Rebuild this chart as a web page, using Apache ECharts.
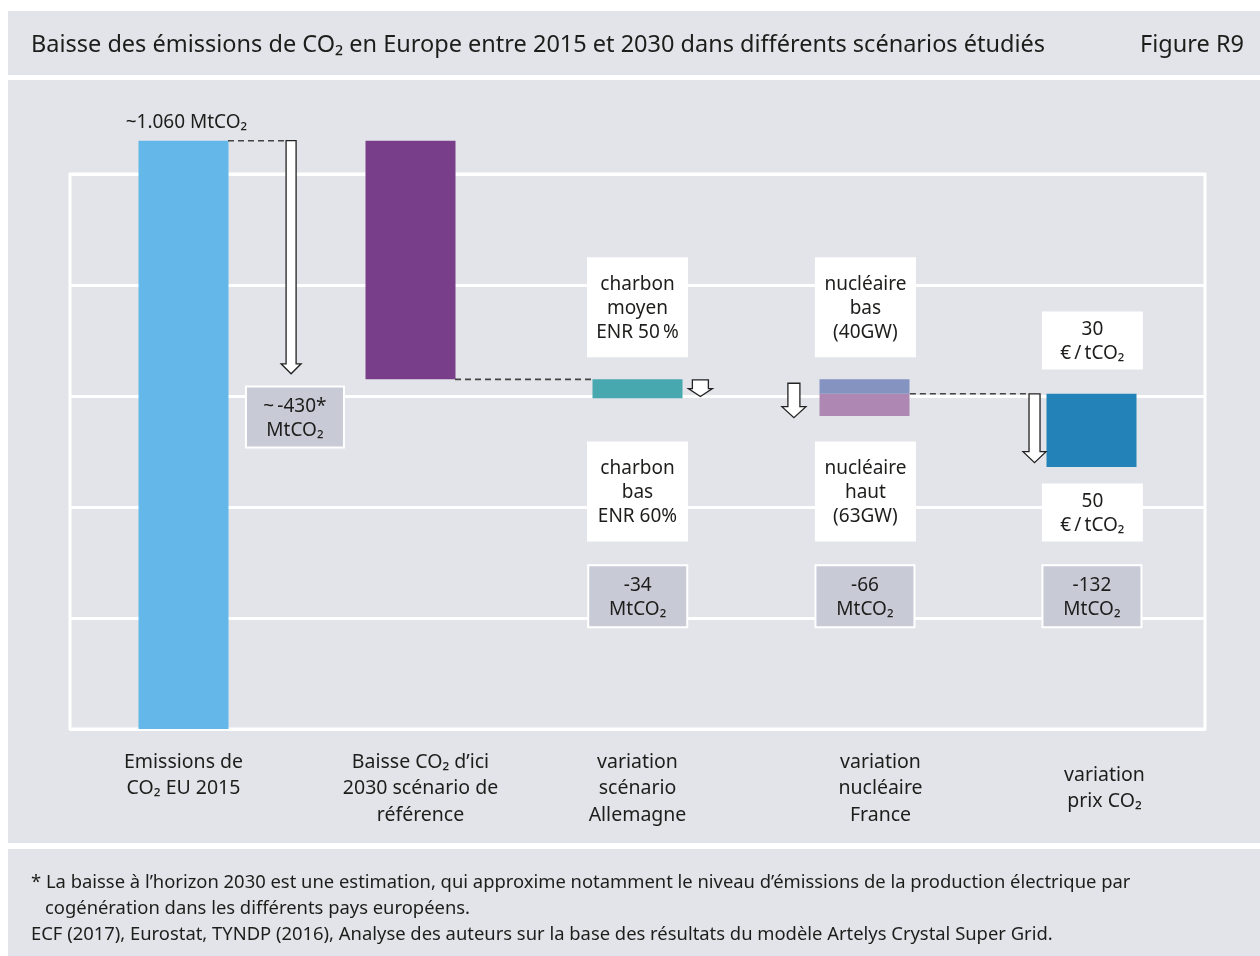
<!DOCTYPE html>
<html>
<head>
<meta charset="utf-8">
<title>Figure R9</title>
<script src="https://cdn.jsdelivr.net/npm/echarts@6/dist/echarts.min.js"></script>
<style>
html,body{margin:0;padding:0;background:#fff;}
#chart{width:1260px;height:956px;}
</style>
</head>
<body>
<div id="chart"></div>
<script>
// categories (x axis)
var categories = [
	'Emissions de\nCO₂ EU 2015',
	'Baisse CO₂ d’ici\n2030 scénario de\nréférence',
	'variation\nscénario\nAllemagne',
	'variation\nnucléaire\nFrance',
	'variation\nprix CO₂'
];
// MtCO2 - invisible base of the waterfall
var barBase = [0, 630, 596, 564, 472];
// MtCO2 - visible part of each bar
var barDrop = [1060, 430, 34, 40, 132];
// MtCO2 - upper part of the nuclear bar (nucléaire bas)
var barUpper = ['-', '-', '-', 26, '-'];
// arrows : start and end level (MtCO2)
var arrowFrom = [1060, 629, 623, 604];
var arrowTo = [640, 599, 561, 480];
// y ticks
var yTicks = [0, 200, 400, 600, 800, 1000];

var FONT = '"Noto Sans", sans-serif';
var TXT = '#1d1d1b';
var PANEL = '#e3e4e9';

// arrow placement (category, offset in bands, shaft/head sizes px)
var arrowLayout = [
	{cat:0, dx:0.474, sw:5,  hw:10, hl:10},
	{cat:2, dx:0.277, sw:8,  hw:12, hl:8},
	{cat:3, dx:-0.311, sw:6, hw:12, hl:11},
	{cat:4, dx:-0.251, sw:5.5, hw:11.5, hl:11}
];
// dashed connectors
var dashLayout = [
	{cat:0, dx1:0.196, dx2:0.452, y:1060},
	{cat:1, dx1:0.196, dx2:0.804, y:630},
	{cat:3, dx1:0.200, dx2:0.725, y:604}
];
// label boxes
var boxes = [
	{cat:0, dx:0.491, y:562, w:98, h:61, kind:'grey', text:'~\u2009-430*\nMtCO₂'},
	{cat:2, dx:0, y:760, w:101, h:100, kind:'white', text:'charbon\nmoyen\nENR 50\u2009%'},
	{cat:3, dx:0.004, y:760, w:101, h:100, kind:'white', text:'nucléaire\nbas\n(40GW)'},
	{cat:2, dx:0, y:428, w:101, h:100, kind:'white', text:'charbon\nbas\nENR 60%'},
	{cat:3, dx:0.004, y:428, w:101, h:100, kind:'white', text:'nucléaire\nhaut\n(63GW)'},
	{cat:2, dx:0.001, y:239, w:99, h:62, kind:'grey', text:'-34\nMtCO₂'},
	{cat:3, dx:0.002, y:239, w:99, h:62, kind:'grey', text:'-66\nMtCO₂'},
	{cat:4, dx:0.004, y:700, w:101, h:58, kind:'white', text:'30\n€\u2009/\u2009tCO₂'},
	{cat:4, dx:0.004, y:390, w:101, h:58, kind:'white', text:'50\n€\u2009/\u2009tCO₂'},
	{cat:4, dx:0.002, y:239, w:99, h:62, kind:'grey', text:'-132\nMtCO₂'},
	{cat:0, dx:0.013, y:1096, w:0, h:0, kind:'none', text:'~1.060 MtCO₂'}
];

var myChart = echarts.init(document.getElementById('chart'));

function bandOf(api){
	return api.coord([1, 0])[0] - api.coord([0, 0])[0];
}

var catData = categories.map(function(c, i){
	var pad = [0, 0, 0, 0];
	if(i == 1) pad = [0, 0, 0, 20];
	if(i == 3) pad = [0, 0, 0, 32];
	if(i == 4) pad = [13, 0, 0, 26];
	return {value: c, textStyle: {padding: pad}};
});

var option = {
	backgroundColor: '#fff',
	animation: false,
	title: [{
		text: 'Baisse des émissions de CO₂ en Europe entre 2015 et 2030 dans différents scénarios étudiés',
		left: 31, top: 33,
		padding: 0,
		textStyle: {fontFamily: FONT, fontSize: 23.5, fontWeight: 'normal', color: TXT}
	},{
		text: 'Figure R9',
		right: 16, top: 33,
		padding: 0,
		textStyle: {fontFamily: FONT, fontSize: 23.5, fontWeight: 'normal', color: TXT}
	}],
	graphic: [
		{type:'rect', z:-10, shape:{x:8, y:11, width:1252, height:64}, style:{fill:PANEL}},
		{type:'rect', z:-10, shape:{x:8, y:80, width:1252, height:763}, style:{fill:PANEL}},
		{type:'rect', z:-10, shape:{x:8, y:849, width:1252, height:107}, style:{fill:PANEL}},
		{type:'text', left:31, top:874, style:{text:'* La baisse à l’horizon 2030 est une estimation, qui approxime notamment le niveau d’émissions de la production électrique par', font:'18.4px ' + FONT, fill:TXT}},
		{type:'text', left:45, top:900, style:{text:'cogénération dans les différents pays européens.', font:'18.4px ' + FONT, fill:TXT}},
		{type:'text', left:31, top:926, style:{text:'ECF (2017), Eurostat, TYNDP (2016), Analyse des auteurs sur la base des résultats du modèle Artelys Crystal Super Grid.', font:'18.4px ' + FONT, fill:TXT}}
	],
	grid: {
		left: 70, right: 55, top: 174, bottom: 227,
		show: true, backgroundColor: 'transparent',
		borderColor: '#fff', borderWidth: 3
	},
	xAxis: {
		type: 'category',
		data: catData,
		axisLine: {show: false},
		axisTick: {show: false},
		axisLabel: {
			margin: 20, interval: 0,
			fontFamily: FONT, fontSize: 19.5, lineHeight: 26.5,
			color: TXT, verticalAlign: 'top'
		}
	},
	yAxis: {
		type: 'value',
		min: yTicks[0], max: yTicks[yTicks.length - 1], interval: 200,
		axisLine: {show: false},
		axisTick: {show: false},
		axisLabel: {show: false},
		splitLine: {lineStyle: {color: '#fff', width: 3}}
	},
	series: [{
		name: 'base', type: 'bar', stack: 'w', barWidth: 90, clip: false,
		itemStyle: {color: 'transparent'},
		data: barBase
	},{
		name: 'baisse', type: 'bar', stack: 'w', barWidth: 90, clip: false, z: 3,
		data: barDrop.map(function(v, i){
			var colors = ['#63b8e9', '#783e8a', '#47a8b0', '#ae88b3', '#2383b8'];
			return {value: v, itemStyle: {color: colors[i]}};
		})
	},{
		name: 'nucléaire bas', type: 'bar', stack: 'w', barWidth: 90, clip: false, z: 3,
		itemStyle: {color: '#8593c1'},
		data: barUpper
	},{
		// dashed connectors
		type: 'custom', clip: false, z: 4, silent: true,
		data: dashLayout.map(function(d){ return [d.cat, d.y]; }),
		renderItem: function(params, api){
			var d = dashLayout[params.dataIndex];
			var p = api.coord([d.cat, d.y]);
			var band = bandOf(api);
			return {type: 'line',
				shape: {x1: p[0] + d.dx1 * band, y1: p[1], x2: p[0] + d.dx2 * band, y2: p[1]},
				style: {stroke: '#444', lineWidth: 1.6, lineDash: [6, 4]}};
		}
	},{
		// arrows
		type: 'custom', clip: false, z: 5, silent: true,
		data: arrowFrom.map(function(v, i){ return [arrowLayout[i].cat, v, arrowTo[i]]; }),
		renderItem: function(params, api){
			var a = arrowLayout[params.dataIndex];
			var p0 = api.coord([a.cat, api.value(1)]);
			var p1 = api.coord([a.cat, api.value(2)]);
			var x = p0[0] + a.dx * bandOf(api);
			var yt = p0[1], yb = p1[1], yh = yb - a.hl;
			return {type: 'polygon',
				shape: {points: [
					[x - a.sw, yt], [x + a.sw, yt], [x + a.sw, yh], [x + a.hw, yh],
					[x, yb], [x - a.hw, yh], [x - a.sw, yh]
				]},
				style: {fill: '#fff', stroke: '#222', lineWidth: 1.3}};
		}
	},{
		// label boxes
		type: 'custom', clip: false, z: 6, silent: true,
		data: boxes.map(function(b){ return [b.cat, b.y]; }),
		renderItem: function(params, api){
			var b = boxes[params.dataIndex];
			var p = api.coord([b.cat, b.y]);
			var cx = p[0] + b.dx * bandOf(api);
			var children = [];
			if(b.kind != 'none'){
				children.push({type: 'rect',
					shape: {x: cx - b.w / 2, y: p[1] - b.h / 2, width: b.w, height: b.h},
					style: b.kind == 'grey'
						? {fill: '#c8cad6', stroke: '#fff', lineWidth: 2}
						: {fill: '#fff'}});
			}
			children.push({type: 'text',
				style: {text: b.text, x: cx, y: p[1] + 1.5, align: 'center', verticalAlign: 'middle',
					font: '19px ' + FONT, lineHeight: 24, fill: TXT}});
			return {type: 'group', children: children};
		}
	}]
};
myChart.setOption(option);
</script>
</body>
</html>
